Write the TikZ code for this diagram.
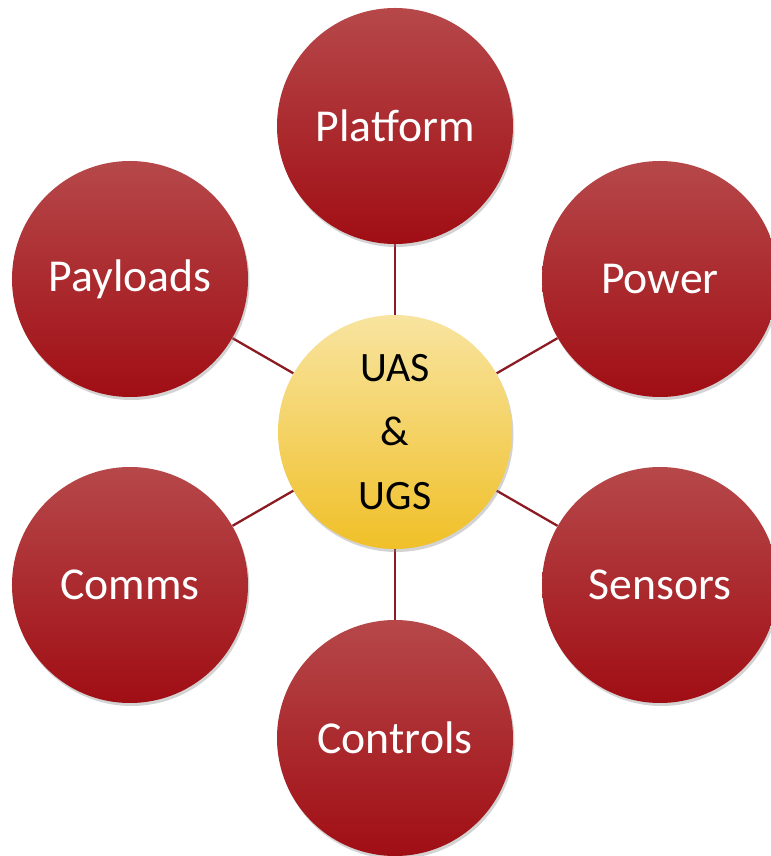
\documentclass[tikz,border=0pt]{standalone}
\usepackage{fontspec}
\setmainfont{Carlito}
\usetikzlibrary{shadows, backgrounds}

\definecolor{redtop}{RGB}{182,72,74}
\definecolor{redbot}{RGB}{160,14,20}
\definecolor{goldtop}{RGB}{248,228,160}
\definecolor{goldbot}{RGB}{240,192,40}
\definecolor{linkred}{RGB}{140,26,34}

\begin{document}
\begin{tikzpicture}[
    area/.style={circle, minimum size=4.72cm, inner sep=0pt, text=white,
      top color=redtop, bottom color=redbot,
      drop shadow={opacity=0.35, shadow xshift=0.03cm, shadow yshift=-0.06cm},
      font=\fontsize{26}{31}\selectfont},
    hub/.style={circle, minimum size=4.68cm, inner sep=0pt, align=center,
      top color=goldtop, bottom color=goldbot,
      drop shadow={opacity=0.35, shadow xshift=0.03cm, shadow yshift=-0.06cm},
      font=\fontsize{23.8}{36.3}\selectfont},
    link/.style={draw=linkred, line width=1.3pt}]
  \useasboundingbox (-7.9, -8.48) rectangle (7.5, 8.64);
  \node (core)     [hub]  at (0, 0)        {UAS\\\&\\UGS};
  \node (platform) [area] at (90:6.12)     {Platform};
  \node (power)    [area] at (30:6.12)     {Power};
  \node (sensors)  [area] at (-30:6.12)    {Sensors};
  \node (controls) [area] at (-90:6.12)    {Controls};
  \node (comms)    [area] at (210:6.12)    {Comms};
  \node (payloads) [area] at (150:6.12)    {Payloads};
  \begin{scope}[on background layer]
    \draw[link] (core) -- (platform);
    \draw[link] (core) -- (power);
    \draw[link] (core) -- (sensors);
    \draw[link] (core) -- (controls);
    \draw[link] (core) -- (comms);
    \draw[link] (core) -- (payloads);
  \end{scope}
\end{tikzpicture}
\end{document}
